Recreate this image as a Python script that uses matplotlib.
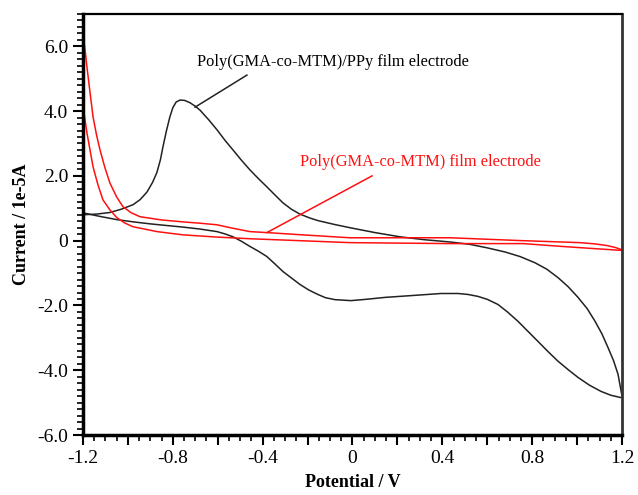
import matplotlib.pyplot as plt
from matplotlib.ticker import MultipleLocator, FixedLocator, FixedFormatter

plt.rcParams['font.family'] = ['Liberation Serif', 'DejaVu Serif']

# Poly(GMA-co-MTM)/PPy film electrode, forward scan (-1.2 -> 1.2 V)
ppy_fwd_x = [-1.2, -1.14, -1.08, -1.03, -0.977, -0.945, -0.915, -0.89, -0.871,
             -0.855, -0.844, -0.828, -0.813, -0.80, -0.785, -0.768, -0.748,
             -0.724, -0.70, -0.679, -0.64, -0.603, -0.568, -0.532, -0.494,
             -0.456, -0.418, -0.381, -0.345, -0.310, -0.272, -0.234, -0.19,
             -0.154, -0.08, -0.011, 0.10, 0.211, 0.32, 0.434, 0.52, 0.599,
             0.68, 0.746, 0.812, 0.865, 0.915, 0.96, 1.004, 1.045, 1.080,
             1.11, 1.137, 1.162, 1.182, 1.2]
ppy_fwd_y = [0.80, 0.82, 0.87, 0.97, 1.11, 1.27, 1.50, 1.80, 2.10,
             2.50, 2.89, 3.40, 3.82, 4.10, 4.28, 4.34, 4.33,
             4.26, 4.15, 4.03, 3.73, 3.42, 3.10, 2.80, 2.48,
             2.18, 1.91, 1.66, 1.41, 1.17, 0.97, 0.82, 0.70,
             0.62, 0.50, 0.40, 0.25, 0.12, 0.03, -0.04, -0.11, -0.22,
             -0.35, -0.49, -0.68, -0.88, -1.14, -1.42, -1.75, -2.10, -2.49,
             -2.87, -3.29, -3.70, -4.12, -4.80]
# reverse scan (1.2 -> -1.2 V)
ppy_rev_x = [1.2, 1.15, 1.106, 1.055, 1.004, 0.96, 0.915, 0.87, 0.826, 0.78,
             0.737, 0.69, 0.648, 0.60, 0.559, 0.515, 0.470, 0.394, 0.292,
             0.145, 0.06, -0.007, -0.078, -0.12, -0.154, -0.195, -0.234,
             -0.272, -0.310, -0.345, -0.381, -0.42, -0.456, -0.494, -0.532,
             -0.568, -0.603, -0.68, -0.755, -0.83, -0.902, -0.975, -1.049,
             -1.125, -1.2]
ppy_rev_y = [-4.85, -4.77, -4.65, -4.46, -4.22, -3.98, -3.72, -3.42, -3.11, -2.79,
             -2.49, -2.20, -1.97, -1.81, -1.72, -1.66, -1.63, -1.63, -1.68,
             -1.75, -1.81, -1.85, -1.82, -1.76, -1.66, -1.52, -1.35,
             -1.15, -0.95, -0.72, -0.49, -0.32, -0.18, -0.02, 0.12,
             0.21, 0.28, 0.36, 0.42, 0.47, 0.52, 0.58, 0.65,
             0.75, 0.86]

# Poly(GMA-co-MTM) film electrode
gm_up_x = [-1.2, -1.19, -1.182, -1.168, -1.155, -1.14, -1.124, -1.102, -1.080,
           -1.05, -1.022, -0.985, -0.946, -0.85, -0.755, -0.68, -0.603, -0.53,
           -0.456, -0.381, -0.2, -0.011, 0.434, 0.759, 1.013, 1.08, 1.133,
           1.17, 1.2]
gm_up_y = [6.40, 5.85, 5.35, 4.55, 3.82, 3.28, 2.80, 2.25, 1.78,
           1.35, 1.05, 0.86, 0.74, 0.64, 0.58, 0.54, 0.49, 0.38,
           0.28, 0.25, 0.17, 0.09, 0.09, 0.0, -0.06, -0.10, -0.15,
           -0.21, -0.28]
gm_lo_x = [-1.2, -1.19, -1.182, -1.168, -1.155, -1.133, -1.111, -1.08, -1.049,
           -1.015, -0.977, -0.87, -0.755, -0.6, -0.456, -0.011, 0.434, 0.759,
           0.937, 1.088, 1.2]
gm_lo_y = [4.15, 3.70, 3.32, 2.78, 2.28, 1.72, 1.26, 0.95, 0.71,
           0.55, 0.43, 0.28, 0.18, 0.11, 0.06, -0.06, -0.09, -0.09,
           -0.18, -0.25, -0.30]

fig = plt.figure(figsize=(6.38, 4.95), dpi=100)
ax = fig.add_axes([0.130, 0.121, 0.845, 0.851])

ax.plot(ppy_fwd_x, ppy_fwd_y, color='#222222', lw=1.1)
ax.plot(ppy_rev_x, ppy_rev_y, color='#222222', lw=1.1)
ax.plot(gm_up_x, gm_up_y, color='#ff1010', lw=1.1)
ax.plot(gm_lo_x, gm_lo_y, color='#ff1010', lw=1.1)

# labels with leader lines
ax.plot([-0.701, -0.47], [4.12, 5.11], color='#222222', lw=1.1)
ax.text(-0.692, 5.51, 'Poly(GMA-co-MTM)/PPy film electrode', fontsize=11.8,
        color='black', va='center', ha='left')
ax.plot([-0.381, 0.087], [0.25, 2.0], color='#ff1010', lw=1.1)
ax.text(-0.234, 2.43, 'Poly(GMA-co-MTM) film electrode', fontsize=11.8,
        color='#ff1010', va='center', ha='left')

ax.set_xlim(-1.2, 1.2)
ax.set_ylim(-6.0, 7.0)

xt = [-1.2, -1.0, -0.8, -0.6, -0.4, -0.2, 0, 0.2, 0.4, 0.6, 0.8, 1.0, 1.2]
xl = ['-1.2', '', '-0.8', '', '-0.4', '', '0', '', '0.4', '', '0.8', '', '1.2']
ax.xaxis.set_major_locator(FixedLocator(xt))
ax.xaxis.set_major_formatter(FixedFormatter(xl))
ax.xaxis.set_minor_locator(MultipleLocator(0.05))
yt = [-6, -4, -2, 0, 2, 4, 6]
yl = ['-6.0', '-4.0', '-2.0', '0', '2.0', '4.0', '6.0']
ax.yaxis.set_major_locator(FixedLocator(yt))
ax.yaxis.set_major_formatter(FixedFormatter(yl))
ax.yaxis.set_minor_locator(MultipleLocator(0.2))

ax.tick_params(which='major', direction='out', length=7, width=1.5, labelsize=14,
               top=False, right=False)
ax.tick_params(which='minor', direction='out', length=4, width=1.2,
               top=False, right=False)
ax.tick_params(axis='x', pad=4)

for side in ['left', 'bottom']:
    ax.spines[side].set_linewidth(2.5)
ax.spines['top'].set_linewidth(1.6)
ax.spines['right'].set_linewidth(2.0)
ax.spines['right'].set_color('#333333')

ax.set_xlabel('Potential / V', fontsize=13, fontweight='bold', labelpad=5)
ax.set_ylabel('Current / 1e-5A', fontsize=13, fontweight='bold', labelpad=5)

fig.savefig('out.png', dpi=100)
